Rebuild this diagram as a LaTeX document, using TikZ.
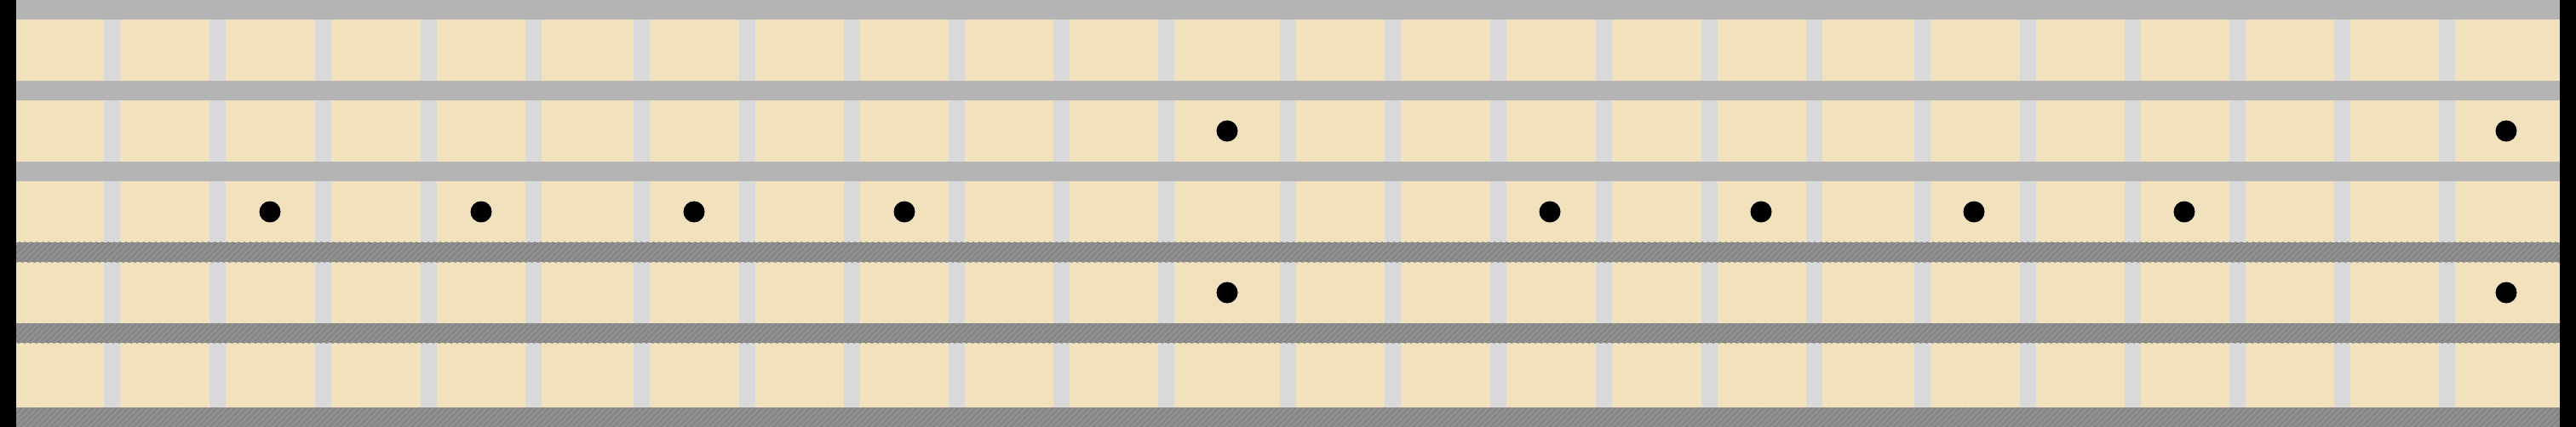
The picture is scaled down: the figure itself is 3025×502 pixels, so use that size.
\documentclass[tikz,border=0pt]{standalone}
\usepackage{tikz}
\usetikzlibrary{patterns.meta}
\definecolor{boardwood}{RGB}{241,225,189}
\definecolor{fretwire}{RGB}{217,217,217}
\definecolor{plainstr}{RGB}{180,180,180}
\definecolor{woundstr}{RGB}{134,134,134}
\definecolor{woundhatch}{RGB}{148,148,148}

\begin{document}
\begin{tikzpicture}[x=0.1mm, y=-0.1mm, every path/.style={draw=none}]
  \useasboundingbox (0,0) rectangle (3025,502);
  % wood
  \fill[boardwood] (18,0) rectangle (3006,502);
  % frets
  \fill[fretwire] (122,0) rectangle (141,502);
  \fill[fretwire] (246,0) rectangle (265,502);
  \fill[fretwire] (370,0) rectangle (389,502);
  \fill[fretwire] (494,0) rectangle (513,502);
  \fill[fretwire] (617,0) rectangle (636,502);
  \fill[fretwire] (744,0) rectangle (763,502);
  \fill[fretwire] (868,0) rectangle (887,502);
  \fill[fretwire] (991,0) rectangle (1010,502);
  \fill[fretwire] (1114,0) rectangle (1133,502);
  \fill[fretwire] (1237,0) rectangle (1256,502);
  \fill[fretwire] (1360,0) rectangle (1379,502);
  \fill[fretwire] (1503,0) rectangle (1522,502);
  \fill[fretwire] (1626,0) rectangle (1645,502);
  \fill[fretwire] (1750,0) rectangle (1769,502);
  \fill[fretwire] (1874,0) rectangle (1893,502);
  \fill[fretwire] (1998,0) rectangle (2017,502);
  \fill[fretwire] (2121,0) rectangle (2140,502);
  \fill[fretwire] (2248,0) rectangle (2267,502);
  \fill[fretwire] (2372,0) rectangle (2391,502);
  \fill[fretwire] (2495,0) rectangle (2514,502);
  \fill[fretwire] (2618,0) rectangle (2637,502);
  \fill[fretwire] (2741,0) rectangle (2760,502);
  \fill[fretwire] (2864,0) rectangle (2883,502);
  % plain strings
  \fill[plainstr] (19,0) rectangle (3006,23);
  \fill[plainstr] (19,95) rectangle (3006,118);
  \fill[plainstr] (19,190) rectangle (3006,213);
  % wound strings
  \fill[woundstr] (19,285) rectangle (3006,308);
  \fill[pattern={Lines[angle=45, distance=1.4pt, line width=0.45pt]}, pattern color=woundhatch] (19,285) rectangle (3006,308);
  \fill[woundstr] (19,380) rectangle (3006,403);
  \fill[pattern={Lines[angle=45, distance=1.4pt, line width=0.45pt]}, pattern color=woundhatch] (19,380) rectangle (3006,403);
  \fill[woundstr] (19,479) rectangle (3006,502);
  \fill[pattern={Lines[angle=45, distance=1.4pt, line width=0.45pt]}, pattern color=woundhatch] (19,479) rectangle (3006,502);
  % inlays
  \fill[black] (317,249) circle (12.5);
  \fill[black] (565,249) circle (12.5);
  \fill[black] (815,249) circle (12.5);
  \fill[black] (1062,249) circle (12.5);
  \fill[black] (1441,154) circle (12.5);
  \fill[black] (1441,344) circle (12.5);
  \fill[black] (1820,249) circle (12.5);
  \fill[black] (2068,249) circle (12.5);
  \fill[black] (2318,249) circle (12.5);
  \fill[black] (2565,249) circle (12.5);
  \fill[black] (2943,154) circle (12.5);
  \fill[black] (2943,344) circle (12.5);
  % nut and end
  \fill[black] (0,0) rectangle (18.5,502);
  \fill[black] (3006,0) rectangle (3025,502);
\end{tikzpicture}
\end{document}
